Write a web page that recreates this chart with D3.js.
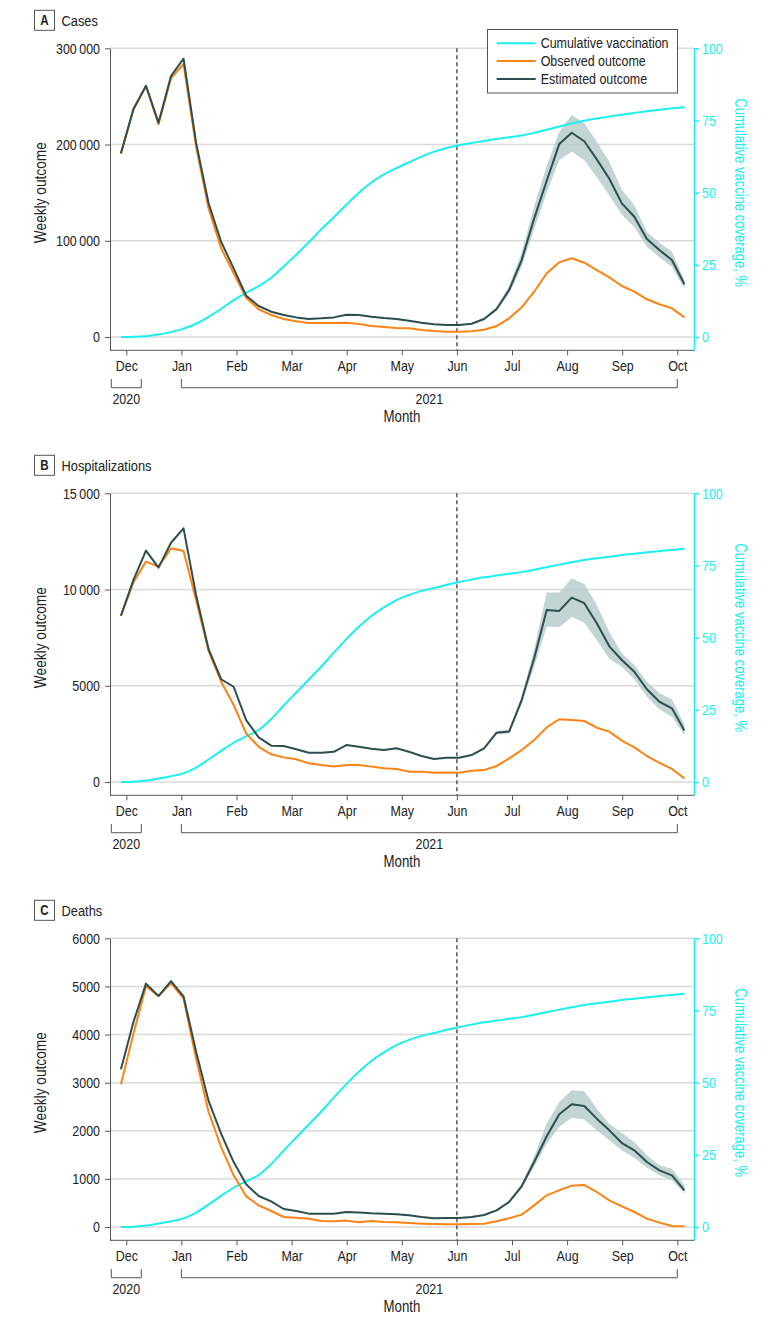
<!DOCTYPE html>
<html><head><meta charset="utf-8">
<script src="https://cdn.jsdelivr.net/npm/d3@7"></script>
<style>
body{margin:0;background:#fff}
svg{display:block}
text{font-family:"Liberation Sans",Arial,sans-serif;}
</style>
</head><body>
<svg id="chart" width="780" height="1328"></svg>
<script>
// ---------- DATA ----------
const monthLabels = ["Dec","Jan","Feb","Mar","Apr","May","Jun","Jul","Aug","Sep","Oct"];
const yearLabels = ["2020","2021"];
const legendLabels = ["Cumulative vaccination","Observed outcome","Estimated outcome"];
const panelLetters = ["A","B","C"];
const panelTitles = ["Cases","Hospitalizations","Deaths"];
const interventionMonth = 6; // Jun
const bandStartWeek = 27;
// weekly points: first week starts 3 days before Dec 1; axis months are equal length
const firstWeekOffsetDays = -3;
const axisDaysPerMonth = 30.8;
const weekCount = 46;

const casesEst = [190900,236900,261100,222700,271200,289200,202000,139000,99000,71400,42900,32200,26300,22900,20400,18700,19400,20400,23200,22900,21100,19700,18700,17000,14900,13200,12500,12500,13800,18700,29100,48800,80000,123300,162400,200500,212300,203400,184600,164500,138900,125000,101800,90400,80000,54800];
const casesObs = [190500,236500,260800,221000,269000,283700,198000,133700,92200,66200,40800,28800,22900,18700,16300,14500,14500,14500,14900,13500,11400,10400,9400,9000,7300,6200,5500,5500,5900,7600,11400,19400,30900,47100,66200,77600,81800,77200,69600,62000,53000,47100,39200,34000,29800,20400];
const casesLo = [12300,13300,17800,27000,45000,73000,112000,150000,184000,192600,184000,166000,147000,127000,114000,93800,82800,73000,49600];
const casesHi = [12700,14300,19700,31500,53000,88000,136000,178000,213000,230700,222000,203000,182000,153000,137000,109000,98000,88600,59000];
const casesVacc = [0,0.1,0.3,0.9,1.7,2.9,4.6,7.0,9.8,12.8,15.3,17.6,20.5,24.5,28.5,32.8,37.3,41.5,45.8,50.0,53.5,56.3,58.5,60.5,62.5,64.2,65.5,66.4,67.2,67.9,68.6,69.2,69.8,70.7,71.8,72.9,74.0,74.9,75.7,76.4,77.0,77.6,78.2,78.7,79.2,79.6];

const hospEst = [8640,10500,12020,11140,12430,13180,9720,6900,5340,4950,3220,2320,1890,1870,1700,1520,1520,1570,1920,1830,1730,1660,1750,1570,1350,1200,1260,1260,1400,1750,2560,2620,4260,6430,8940,8890,9580,9290,8250,7050,6340,5730,4820,4170,3830,2670];
const hospObs = [8640,10375,11450,11190,12140,12000,9460,6800,5210,4000,2530,1830,1440,1280,1180,970,880,810,880,880,800,710,680,540,540,480,500,480,590,620,830,1230,1660,2180,2840,3260,3220,3170,2820,2620,2150,1800,1350,1000,680,190];
const hospLo = [1240,1370,1700,2480,2520,4050,6000,8070,8040,8590,8280,7380,6400,5990,5340,4430,3780,3390,2440];
const hospHi = [1290,1440,1800,2650,2710,4470,6900,9840,9840,10580,10290,9200,7800,6690,6080,5210,4610,4300,2960];
const hospVacc = [0,0.1,0.5,1.2,2.0,3.0,5.0,7.8,10.8,13.6,15.8,18.0,21.8,26.5,31.0,35.5,40.0,44.8,49.5,53.8,57.5,60.5,63.0,64.8,66.2,67.2,68.3,69.3,70.1,70.9,71.5,72.1,72.7,73.5,74.4,75.3,76.1,76.9,77.5,78.0,78.6,79.1,79.6,80.0,80.4,80.8];

const deathsEst = [3277,4260,5058,4800,5112,4794,3650,2620,1940,1350,887,644,534,374,333,278,278,278,312,300,285,278,264,243,208,181,187,187,208,250,347,520,846,1351,1885,2342,2550,2514,2252,2009,1745,1594,1351,1178,1074,763];
const deathsObs = [2965,4019,5002,4800,5071,4746,3500,2390,1662,1074,638,451,333,208,195,174,125,118,133,98,125,104,98,83,70,62,56,56,62,70,118,181,257,450,659,763,860,873,728,555,430,312,174,91,21,15];
const deathsLo = [182,200,240,330,495,800,1260,1730,2078,2273,2232,2009,1801,1594,1442,1234,1074,970,694];
const deathsHi = [192,216,262,365,550,900,1470,2150,2598,2841,2826,2460,2148,1953,1766,1490,1282,1213,866];
const deathsVacc = [0,0.1,0.5,1.2,2.0,3.0,5.0,7.8,10.8,13.6,15.8,18.0,21.8,26.5,31.0,35.5,40.0,44.8,49.5,53.8,57.5,60.5,63.0,64.8,66.2,67.2,68.3,69.3,70.1,70.9,71.5,72.1,72.7,73.5,74.4,75.3,76.1,76.9,77.5,78.0,78.6,79.1,79.6,80.0,80.4,80.8];

const casesTicks = [0,100000,200000,300000];
const hospTicks = [0,5000,10000,15000];
const deathsTicks = [0,1000,2000,3000,4000,5000,6000];
const vaccTicks = [0,25,50,75,100];

// ---------- STYLE / LAYOUT ----------
const C_CYAN = "#1af0f0", C_ORANGE = "#ff8214", C_DARK = "#2c4e4e", C_BAND = "#b9cccc", C_AXIS = "#555", C_GRID = "#dadada", C_TEXT = "#222";
const NARROW = 0.83; // horizontal squeeze to mimic a narrow typeface
const plotLeft = 110, plotRight = 694;
const plotH = 302; // top to bottom axis line
const belowZero = 0.046; // fraction of max shown below zero
const panelTops = [48.3, 493.3, 938.3];

const svg = d3.select("#chart");
const xM = d3.scaleLinear().domain([0, monthLabels.length - 1]).range([126.3, 677.3]);
const weekMonth = i => (i * 7 + firstWeekOffsetDays) / axisDaysPerMonth;
const weeks = d3.range(weekCount);

const fmt = v => v >= 10000 ? d3.format(",")(v).replace(/,/g, "\u2009") : String(v);

const panels = [
  {est: casesEst, obs: casesObs, lo: casesLo, hi: casesHi, vacc: casesVacc, ticks: casesTicks},
  {est: hospEst, obs: hospObs, lo: hospLo, hi: hospHi, vacc: hospVacc, ticks: hospTicks},
  {est: deathsEst, obs: deathsObs, lo: deathsLo, hi: deathsHi, vacc: deathsVacc, ticks: deathsTicks}
];

panels.forEach((p, k) => {
  const top = panelTops[k];
  const g = svg.append("g");
  const yMax = d3.max(p.ticks);
  const y = d3.scaleLinear().domain([-yMax * belowZero, yMax]).range([top + plotH, top]);
  const yR = d3.scaleLinear().domain([-100 * belowZero, 100]).range([top + plotH, top]);
  const x = i => xM(weekMonth(i));

  // panel title
  g.append("rect").attr("x", 34.5).attr("y", top - 38).attr("width", 20).attr("height", 20)
    .attr("fill", "#fff").attr("stroke", C_AXIS).attr("stroke-width", 1);
  g.append("text").attr("x", 44.5).attr("y", top - 28).attr("text-anchor", "middle")
    .attr("dominant-baseline", "central").attr("font-weight", "bold").attr("font-size", 14)
    .attr("fill", C_TEXT).text(panelLetters[k]);
  g.append("text").attr("x", 61.5).attr("y", top - 28).attr("dominant-baseline", "central")
    .attr("font-size", 15.5).attr("fill", C_TEXT).text(panelTitles[k]);

  // gridlines
  g.append("g").selectAll("line").data(p.ticks).join("line")
    .attr("x1", plotLeft).attr("x2", plotRight)
    .attr("y1", d => y(d)).attr("y2", d => y(d))
    .attr("stroke", C_GRID).attr("stroke-width", 1.5);

  // dashed intervention line
  g.append("line").attr("x1", xM(interventionMonth)).attr("x2", xM(interventionMonth))
    .attr("y1", top).attr("y2", top + plotH)
    .attr("stroke", C_AXIS).attr("stroke-width", 1.5).attr("stroke-dasharray", "4,3");

  // CI band
  const bandData = p.lo.map((lo, j) => ({i: bandStartWeek + j, lo, hi: p.hi[j]}));
  g.append("path").datum(bandData)
    .attr("d", d3.area().x(d => x(d.i)).y0(d => y(d.lo)).y1(d => y(d.hi)))
    .attr("fill", C_BAND).attr("opacity", 0.85);

  // lines
  g.append("path").datum(weeks)
    .attr("d", d3.line().x(i => x(i)).y(i => yR(p.vacc[i])).curve(d3.curveMonotoneX))
    .attr("fill", "none").attr("stroke", C_CYAN).attr("stroke-width", 2);
  g.append("path").datum(weeks)
    .attr("d", d3.line().x(i => x(i)).y(i => y(p.obs[i])))
    .attr("fill", "none").attr("stroke", C_ORANGE).attr("stroke-width", 2).attr("stroke-linejoin", "round");
  g.append("path").datum(weeks)
    .attr("d", d3.line().x(i => x(i)).y(i => y(p.est[i])))
    .attr("fill", "none").attr("stroke", C_DARK).attr("stroke-width", 2).attr("stroke-linejoin", "round");

  // left axis
  const ax = g.append("g").attr("transform", `translate(${plotLeft},0)`)
    .call(d3.axisLeft(y).tickValues(p.ticks).tickFormat(fmt).tickSize(5).tickSizeOuter(0).tickPadding(5));
  ax.select(".domain").attr("stroke", C_AXIS);
  ax.selectAll(".tick line").attr("stroke", C_AXIS);
  ax.selectAll(".tick text").attr("font-size", 15).attr("fill", C_TEXT);

  // right axis
  const ar = g.append("g").attr("transform", `translate(${plotRight},0)`)
    .call(d3.axisRight(yR).tickValues(vaccTicks).tickSize(5).tickSizeOuter(0).tickPadding(3));
  ar.select(".domain").attr("stroke", C_CYAN).attr("stroke-width", 1.5);
  ar.selectAll(".tick line").attr("stroke", C_CYAN).attr("stroke-width", 1.5);
  ar.selectAll(".tick text").attr("font-size", 15).attr("fill", C_CYAN);

  // bottom axis
  const yb = top + plotH;
  g.append("line").attr("x1", plotLeft).attr("x2", plotRight).attr("y1", yb).attr("y2", yb)
    .attr("stroke", C_AXIS).attr("stroke-width", 1);
  const ab = g.append("g").attr("transform", `translate(0,${yb})`)
    .call(d3.axisBottom(xM).tickValues(d3.range(monthLabels.length)).tickFormat(i => monthLabels[i])
      .tickSize(5).tickSizeOuter(0).tickPadding(5));
  ab.select(".domain").remove();
  ab.selectAll(".tick line").attr("stroke", C_AXIS);
  ab.selectAll(".tick text").attr("font-size", 15).attr("fill", C_TEXT);

  // year brackets
  const zero = y(0);
  const bY = zero + 50.7, tipY = zero + 42;
  const brackets = [[xM(0) - 15, xM(0) + 15], [xM(1), xM(monthLabels.length - 1)]];
  brackets.forEach(([a, b], j) => {
    g.append("path").attr("d", `M${a},${tipY}V${bY}H${b}V${tipY}`)
      .attr("fill", "none").attr("stroke", C_AXIS).attr("stroke-width", 1);
    g.append("text").attr("x", (a + b) / 2).attr("y", zero + 62).attr("text-anchor", "middle")
      .attr("dominant-baseline", "central").attr("font-size", 15).attr("fill", C_TEXT).text(yearLabels[j]);
  });
  g.append("text").attr("x", (plotLeft + plotRight) / 2).attr("y", zero + 80).attr("text-anchor", "middle")
    .attr("dominant-baseline", "central").attr("font-size", 16).attr("fill", C_TEXT).text("Month");

  // axis titles
  const midY = (y(0) + y(yMax)) / 2;
  g.append("text").attr("transform", `translate(40.5,${midY}) rotate(-90)`).attr("text-anchor", "middle")
    .attr("dominant-baseline", "central").attr("font-size", 16.5).attr("fill", C_TEXT).text("Weekly outcome");
  g.append("text").attr("transform", `translate(740,${midY}) rotate(90)`).attr("text-anchor", "middle")
    .attr("dominant-baseline", "central").attr("font-size", 15.7).attr("fill", C_CYAN).text("Cumulative vaccine coverage, %");

  // legend (panel A only)
  if (k === 0) {
    const lg = g.append("g");
    lg.append("rect").attr("x", 487.5).attr("y", 29.5).attr("width", 190).attr("height", 63.5)
      .attr("fill", "#fff").attr("stroke", C_AXIS).attr("stroke-width", 1);
    const cols = [C_CYAN, C_ORANGE, C_DARK];
    legendLabels.forEach((lab, j) => {
      const ly = 43.3 + j * 17.8;
      lg.append("line").attr("x1", 496.7).attr("x2", 535.7).attr("y1", ly).attr("y2", ly)
        .attr("stroke", cols[j]).attr("stroke-width", 2);
      lg.append("text").attr("x", 540.7).attr("y", ly).attr("dominant-baseline", "central")
        .attr("font-size", 15).attr("fill", C_TEXT).text(lab);
    });
  }
});

// squeeze all text horizontally (along its own direction) around its anchor
svg.selectAll("text").each(function() {
  const t = d3.select(this);
  const ax = +t.attr("x") || 0;
  const prev = t.attr("transform") || "";
  t.attr("transform", `${prev} translate(${ax},0) scale(${NARROW},1) translate(${-ax},0)`);
});
</script>
</body></html>
